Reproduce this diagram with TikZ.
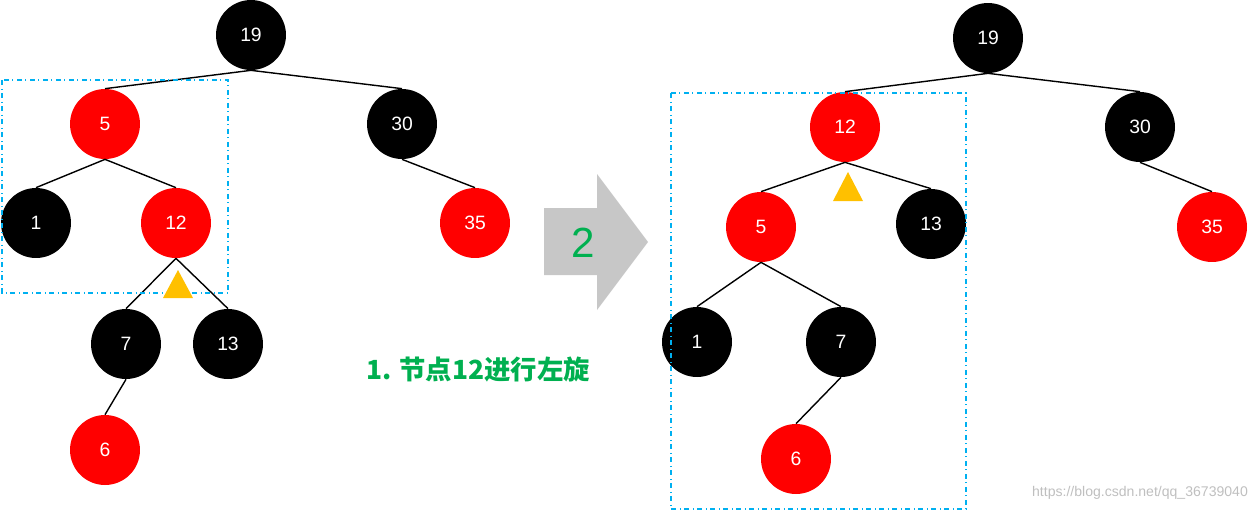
\documentclass[tikz,border=0pt]{standalone}
\usepackage{fontspec}
\setmainfont{Liberation Sans}
\newfontfamily\cjk{Noto Sans CJK SC}
\usetikzlibrary{shapes.geometric, shapes.arrows}
\definecolor{rbred}{RGB}{255,0,0}
\definecolor{boxblue}{RGB}{0,176,240}
\definecolor{txtgreen}{RGB}{0,176,80}
\definecolor{warn}{RGB}{255,192,0}
\tikzset{
  rb/.style={circle, minimum size=1.4cm, inner sep=0pt, text=white, font=\fontsize{11}{13}\selectfont},
  rnode/.style={rb, fill=rbred},
  bnode/.style={rb, fill=black},
  edge/.style={line width=0.8pt},
  frame/.style={boxblue, dash dot, line width=1.2pt}
}
\begin{document}
\begin{tikzpicture}[x=0.02cm, y=-0.02cm]
\useasboundingbox (0,0) rectangle (1248,511);
% before rotation
\node[bnode] (l19) at (251,35) {19};
\node[rnode] (l5) at (105,124) {5};
\node[bnode] (l30) at (402,124) {30};
\node[bnode] (l1) at (36,223) {1};
\node[rnode] (l12) at (176,223) {12};
\node[rnode] (l35) at (475,223) {35};
\node[bnode] (l7) at (126,344) {7};
\node[bnode] (l13) at (228,344) {13};
\node[rnode] (l6) at (105,450) {6};
\draw[edge] (l19.south) -- (l5.north);
\draw[edge] (l19.south) -- (l30.north);
\draw[edge] (l5.south) -- (l1.north);
\draw[edge] (l5.south) -- (l12.north);
\draw[edge] (l30.south) -- (l35.north);
\draw[edge] (l12.south) -- (l7.north);
\draw[edge] (l12.south) -- (l13.north);
\draw[edge] (l7.south) -- (l6.north);
\draw[frame] (2,80) rectangle (228,293);
\fill[warn] (178,270) -- (193,298) -- (163,298) -- cycle;

% arrow and caption
\fill[black!22] (544,208) -- (597,208) -- (597,174) -- (648,242) -- (597,310) -- (597,275) -- (544,275) -- cycle;
\node[text=txtgreen, font=\fontsize{24}{26}\selectfont] (step) at (583,243) {2};
\node[text=txtgreen, font=\cjk\bfseries\fontsize{15}{18}\selectfont] (cap) at (478,370) {1. 节点12进行左旋};

% after rotation
\node[bnode] (r19) at (988,38) {19};
\node[rnode] (r12) at (845,127) {12};
\node[bnode] (r30) at (1140,127) {30};
\node[rnode] (r5) at (761,227) {5};
\node[bnode] (r13) at (931,224) {13};
\node[rnode] (r35) at (1212,227) {35};
\node[bnode] (r1) at (697,342) {1};
\node[bnode] (r7) at (841,342) {7};
\node[rnode] (r6) at (796,459) {6};
\draw[edge] (r19.south) -- (r12.north);
\draw[edge] (r19.south) -- (r30.north);
\draw[edge] (r12.south) -- (r5.north);
\draw[edge] (r12.south) -- (r13.north);
\draw[edge] (r30.south) -- (r35.north);
\draw[edge] (r5.south) -- (r1.north);
\draw[edge] (r5.south) -- (r7.north);
\draw[edge] (r7.south) -- (r6.north);
\draw[frame] (671,93) rectangle (966,509);
\fill[warn] (848,172) -- (863,201) -- (833,201) -- cycle;

\node[text=black!25, font=\fontsize{8}{10}\selectfont] (wm) at (1140,493) {https://blog.csdn.net/qq\_36739040};
\end{tikzpicture}
\end{document}
